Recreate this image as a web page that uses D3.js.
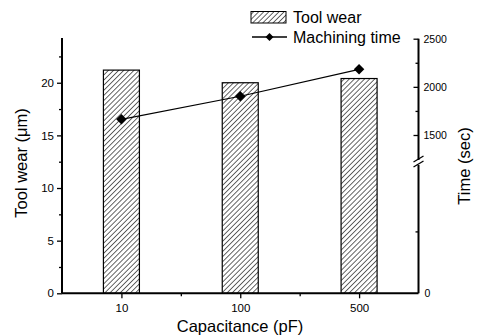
<!DOCTYPE html>
<html>
<head>
<meta charset="utf-8">
<script src="https://cdn.jsdelivr.net/npm/d3@7"></script>
<style>
html,body{margin:0;padding:0;background:#fff;}
svg{display:block;}
svg text{font-family:"Liberation Sans",Arial,Helvetica,sans-serif !important;}
</style>
</head>
<body>
<svg id="chart" width="477" height="336"></svg>
<script>
const categories = ["10", "100", "500"];
const toolWear = [21.2, 20.0, 20.4];
const machiningTime = [1663, 1902, 2182];
const leftTicks = [0, 5, 10, 15, 20];
const rightUpperTicks = [1500, 2000, 2500];
const rightLowerTicks = [0];
const legendLabels = ["Tool wear", "Machining time"];

const FF = "Liberation Sans, Arial, Helvetica, sans-serif";
const svg = d3.select("#chart");
const plot = {left: 62, right: 418.5, top: 38, bottom: 293.3};

const x = d3.scaleLinear().domain([0.5, 3.5]).range([plot.left, plot.right]);
const yL = d3.scaleLinear().domain([0, 24.25]).range([plot.bottom, plot.top]);
const yRu = d3.scaleLinear().domain([1500, 2500]).range([135, 38.7]);
const yRl = d3.scaleLinear().domain([0, 1000]).range([plot.bottom, 169.5]);

const defs = svg.append("defs");
const pat = defs.append("pattern")
  .attr("id", "hatch").attr("patternUnits", "userSpaceOnUse")
  .attr("width", 3.6).attr("height", 3.6)
  .attr("patternTransform", "rotate(45)");
pat.append("rect").attr("width", 3.6).attr("height", 3.6).attr("fill", "#fff");
pat.append("line").attr("x1", 0).attr("y1", 0).attr("x2", 0).attr("y2", 3.6)
  .attr("stroke", "#000").attr("stroke-width", 1.2);

const barW = 36;
svg.append("g").selectAll("rect").data(toolWear).join("rect")
  .attr("x", (d, i) => x(i + 1) - barW / 2)
  .attr("y", d => yL(d))
  .attr("width", barW)
  .attr("height", d => yL(0) - yL(d))
  .attr("fill", "url(#hatch)")
  .attr("stroke", "#000").attr("stroke-width", 1.2);

// left axis
const gL = svg.append("g").attr("transform", `translate(${plot.left},0)`);
gL.call(d3.axisLeft(yL).tickValues(leftTicks).tickSize(5).tickPadding(3));
gL.append("g").call(d3.axisLeft(yL).tickValues([2.5, 7.5, 12.5, 17.5, 22.5]).tickSize(3).tickFormat(""));
gL.selectAll(".domain").remove();
gL.append("line").attr("x1", 0).attr("x2", 0).attr("y1", plot.top).attr("y2", plot.bottom)
  .attr("stroke", "#000").attr("stroke-width", 2);
gL.selectAll(".tick line").attr("stroke-width", 1.3);
gL.selectAll(".tick text").attr("font-size", 11.5).attr("fill", "#000");

// bottom axis
const gB = svg.append("g").attr("transform", `translate(0,${plot.bottom})`);
gB.call(d3.axisBottom(x).tickValues([1, 2, 3]).tickFormat((d, i) => categories[i]).tickSize(5).tickPadding(6));
gB.append("g").call(d3.axisBottom(x).tickValues([1.5, 2.5]).tickSize(3).tickFormat(""));
gB.selectAll(".domain").remove();
gB.append("line").attr("x1", plot.left).attr("x2", plot.right).attr("y1", 0).attr("y2", 0)
  .attr("stroke", "#000").attr("stroke-width", 2);
gB.selectAll(".tick line").attr("stroke-width", 1.3);
gB.selectAll(".tick text").attr("font-size", 11.5).attr("fill", "#000");

// right axis (broken)
const fmt = d3.format("d");
const gR = svg.append("g").attr("transform", `translate(${plot.right},0)`);
const gRu = gR.append("g").call(d3.axisRight(yRu).tickValues(rightUpperTicks).tickFormat(fmt).tickSize(0).tickPadding(5));
gRu.append("g").call(d3.axisLeft(yRu).tickValues(rightUpperTicks).tickSize(5).tickFormat(""));
gRu.append("g").call(d3.axisLeft(yRu).tickValues([1750, 2250]).tickSize(3).tickFormat(""));
const gRl = gR.append("g").call(d3.axisRight(yRl).tickValues(rightLowerTicks).tickFormat(fmt).tickSize(0).tickPadding(6));
gRl.append("g").call(d3.axisLeft(yRl).tickValues([500]).tickSize(3).tickFormat(""));
gR.selectAll(".domain").remove();
gR.selectAll(".tick line").attr("stroke-width", 1.3);
gR.selectAll(".tick text").attr("font-size", 10.5).attr("fill", "#000");
gR.append("line").attr("x1", 0).attr("x2", 0).attr("y1", yRu(2500)).attr("y2", 160)
  .attr("stroke", "#000").attr("stroke-width", 2);
gR.append("line").attr("x1", 0).attr("x2", 0).attr("y1", 165).attr("y2", plot.bottom)
  .attr("stroke", "#000").attr("stroke-width", 2);
[[162, 156], [167, 161]].forEach(([a, b]) => {
  gR.append("line").attr("x1", -5).attr("y1", a).attr("x2", 5).attr("y2", b)
    .attr("stroke", "#000").attr("stroke-width", 1.3);
});

// machining time line
const pts = machiningTime.map((v, i) => [x(i + 1), yRu(v)]);
svg.append("path").attr("d", d3.line()(pts)).attr("fill", "none")
  .attr("stroke", "#000").attr("stroke-width", 1.2);
const diamond = d3.symbol().type(d3.symbolDiamond2).size(70);
svg.append("g").selectAll("path").data(pts).join("path")
  .attr("transform", d => `translate(${d[0]},${d[1]})`)
  .attr("d", diamond).attr("fill", "#000");

// axis titles
svg.append("text").attr("transform", "translate(27,163) rotate(-90)")
  .attr("text-anchor", "middle").attr("font-size", 16.5).attr("fill", "#000")
  .text("Tool wear (μm)");
svg.append("text").attr("transform", "translate(470,166) rotate(-90)")
  .attr("text-anchor", "middle").attr("font-size", 16.5).attr("fill", "#000")
  .text("Time (sec)");
svg.append("text").attr("x", 240).attr("y", 332)
  .attr("text-anchor", "middle").attr("font-size", 16.5).attr("fill", "#000")
  .text("Capacitance (pF)");

// legend
const lg = svg.append("g");
lg.append("rect").attr("x", 251).attr("y", 11.5).attr("width", 35).attr("height", 11.5)
  .attr("fill", "url(#hatch)").attr("stroke", "#000").attr("stroke-width", 1);
lg.append("text").attr("x", 293).attr("y", 23.3).attr("font-size", 16).attr("fill", "#000").text(legendLabels[0]);
lg.append("line").attr("x1", 252).attr("x2", 287).attr("y1", 37).attr("y2", 37)
  .attr("stroke", "#000").attr("stroke-width", 1.3);
lg.append("path").attr("transform", "translate(269.5,37)")
  .attr("d", d3.symbol().type(d3.symbolDiamond2).size(40)).attr("fill", "#000");
lg.append("text").attr("x", 293).attr("y", 42.5).attr("font-size", 16).attr("fill", "#000").text(legendLabels[1]);

svg.selectAll("text").attr("font-family", FF);
svg.selectAll("g").attr("font-family", FF);
</script>
</body>
</html>
